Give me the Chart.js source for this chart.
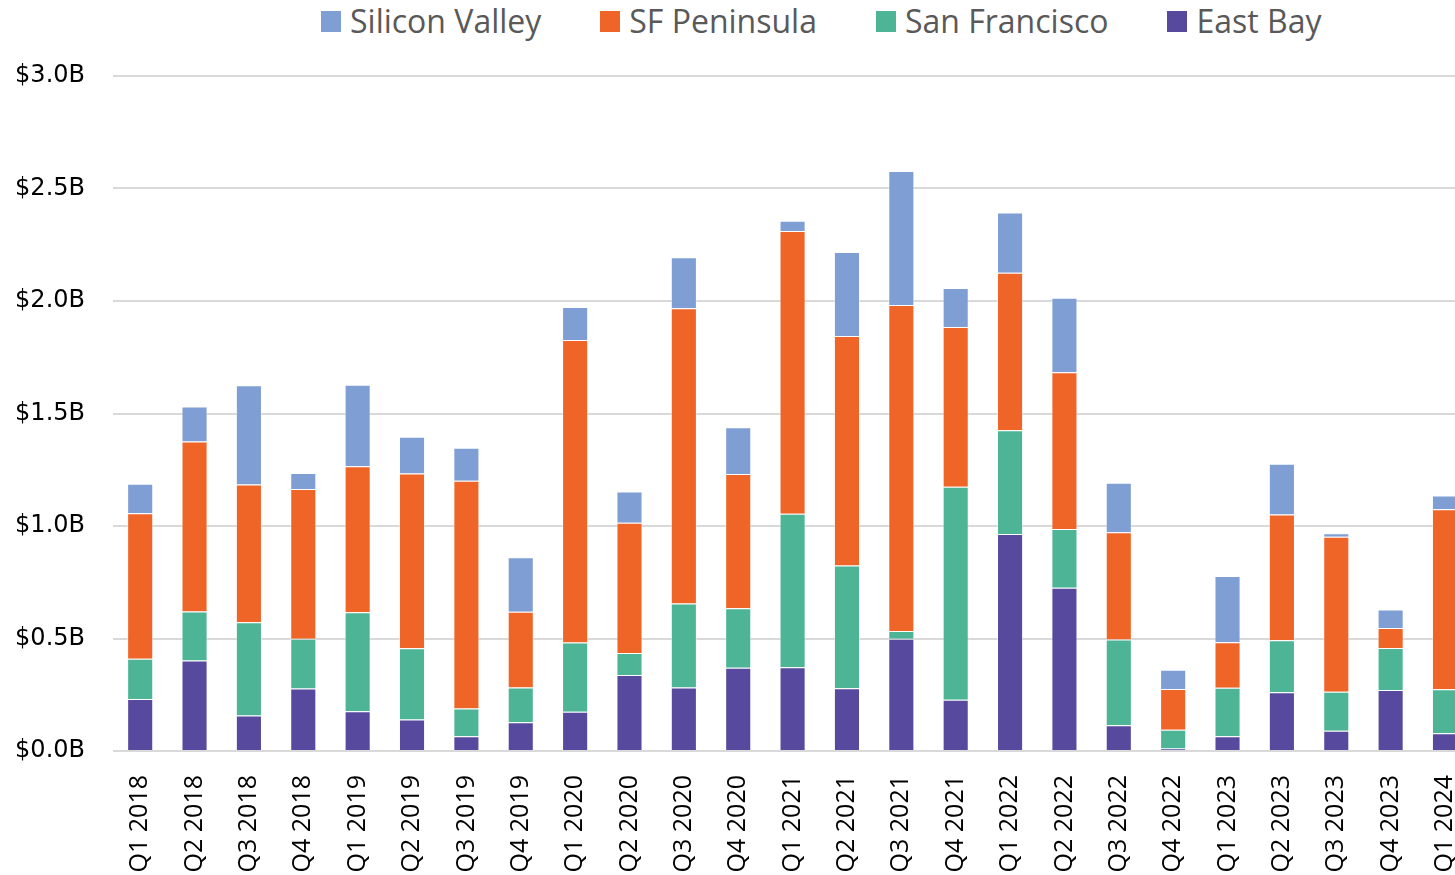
<!DOCTYPE html>
<html lang="en">
<head>
    <meta charset="UTF-8">
    <title>Bay Area funding by region</title>
    <script src="https://cdn.jsdelivr.net/npm/chart.js"></script>
    <style>
        html, body {
            margin: 0;
            padding: 0;
            background: #fff;
            overflow: hidden;
        }
        #wrap {
            position: relative;
            width: 1455px;
            height: 875px;
            overflow: hidden;
        }
        #chartBox {
            position: absolute;
            left: 0;
            top: 0;
            width: 1491px;
            height: 875px;
        }
        #legend {
            position: absolute;
            left: 321px;
            top: 4px;
            display: flex;
            gap: 59px;
            font-family: "Open Sans", sans-serif;
            font-size: 32px;
            line-height: 34px;
            color: #595959;
            white-space: nowrap;
        }
        .item {
            display: flex;
            align-items: center;
        }
        .swatch {
            width: 20px;
            height: 21px;
            margin-right: 9px;
        }
    </style>
</head>
<body>
    <div id="wrap">
        <div id="legend"></div>
        <div id="chartBox"><canvas id="chart"></canvas></div>
    </div>

    <script>
        // quarters on the x axis
        const quarters = [
            'Q1 2018', 'Q2 2018', 'Q3 2018', 'Q4 2018',
            'Q1 2019', 'Q2 2019', 'Q3 2019', 'Q4 2019',
            'Q1 2020', 'Q2 2020', 'Q3 2020', 'Q4 2020',
            'Q1 2021', 'Q2 2021', 'Q3 2021', 'Q4 2021',
            'Q1 2022', 'Q2 2022', 'Q3 2022', 'Q4 2022',
            'Q1 2023', 'Q2 2023', 'Q3 2023', 'Q4 2023',
            'Q1 2024'
        ];

        // values in $ billions, bottom of the stack first
        const eastBay = [0.231, 0.402, 0.158, 0.278, 0.177, 0.140, 0.066, 0.128, 0.175, 0.338, 0.282, 0.370, 0.372,
                         0.279, 0.499, 0.228, 0.964, 0.726, 0.115, 0.011, 0.066, 0.261, 0.090, 0.271, 0.079];
        const sanFrancisco = [0.179, 0.218, 0.414, 0.221, 0.440, 0.317, 0.123, 0.154, 0.307, 0.098, 0.374, 0.265, 0.683,
                              0.546, 0.034, 0.947, 0.462, 0.261, 0.381, 0.083, 0.215, 0.231, 0.173, 0.187, 0.195];
        const sfPeninsula = [0.647, 0.756, 0.612, 0.665, 0.649, 0.776, 1.012, 0.337, 1.345, 0.578, 1.312, 0.596, 1.256,
                             1.019, 1.449, 0.710, 0.700, 0.696, 0.476, 0.182, 0.202, 0.559, 0.689, 0.089, 0.801];
        const siliconValley = [0.131, 0.155, 0.442, 0.072, 0.362, 0.164, 0.147, 0.242, 0.146, 0.139, 0.226, 0.208, 0.046,
                               0.374, 0.596, 0.173, 0.267, 0.331, 0.220, 0.085, 0.295, 0.226, 0.016, 0.082, 0.061];

        const yTicks = [0, 0.5, 1.0, 1.5, 2.0, 2.5, 3.0];

        const series = [
            { label: 'East Bay', data: eastBay, color: '#574A9E' },
            { label: 'San Francisco', data: sanFrancisco, color: '#4DB596' },
            { label: 'SF Peninsula', data: sfPeninsula, color: '#EF6528' },
            { label: 'Silicon Valley', data: siliconValley, color: '#7F9ED3' }
        ];

        // legend shows the top of the stack first
        const legend = document.getElementById('legend');
        series.slice().reverse().forEach(s => {
            const item = document.createElement('div');
            item.className = 'item';
            item.innerHTML = `<span class="swatch" style="background:${s.color}"></span><span>${s.label}</span>`;
            legend.appendChild(item);
        });

        new Chart(document.getElementById('chart'), {
            type: 'bar',
            data: {
                labels: quarters,
                datasets: series.map(s => ({
                    label: s.label,
                    data: s.data,
                    backgroundColor: s.color,
                    borderColor: 'rgba(255,255,255,0.45)',
                    borderWidth: 1,
                    categoryPercentage: 1,
                    barPercentage: 0.48
                }))
            },
            options: {
                responsive: true,
                maintainAspectRatio: false,
                animation: false,
                layout: {
                    padding: { top: 76, right: 0, bottom: 0, left: 0 }
                },
                plugins: {
                    legend: { display: false },
                    tooltip: { enabled: false }
                },
                scales: {
                    x: {
                        stacked: true,
                        grid: { display: false },
                        border: { display: false },
                        ticks: {
                            minRotation: 90,
                            maxRotation: 90,
                            padding: 16,
                            color: '#000',
                            font: { family: 'Open Sans', size: 25 }
                        },
                        afterFit(scale) { scale.height = 124; }
                    },
                    y: {
                        stacked: true,
                        min: 0,
                        max: 3,
                        afterBuildTicks(scale) {
                            scale.ticks = yTicks.map(v => ({ value: v }));
                        },
                        grid: {
                            color: '#d9d9d9',
                            lineWidth: 2,
                            drawTicks: false
                        },
                        border: { display: false },
                        ticks: {
                            padding: 28,
                            color: '#000',
                            font: { family: 'DejaVu Sans', size: 24 },
                            callback: v => '$' + v.toFixed(1) + 'B'
                        },
                        afterFit(scale) { scale.width = 113; }
                    }
                }
            }
        });
    </script>
</body>
</html>
